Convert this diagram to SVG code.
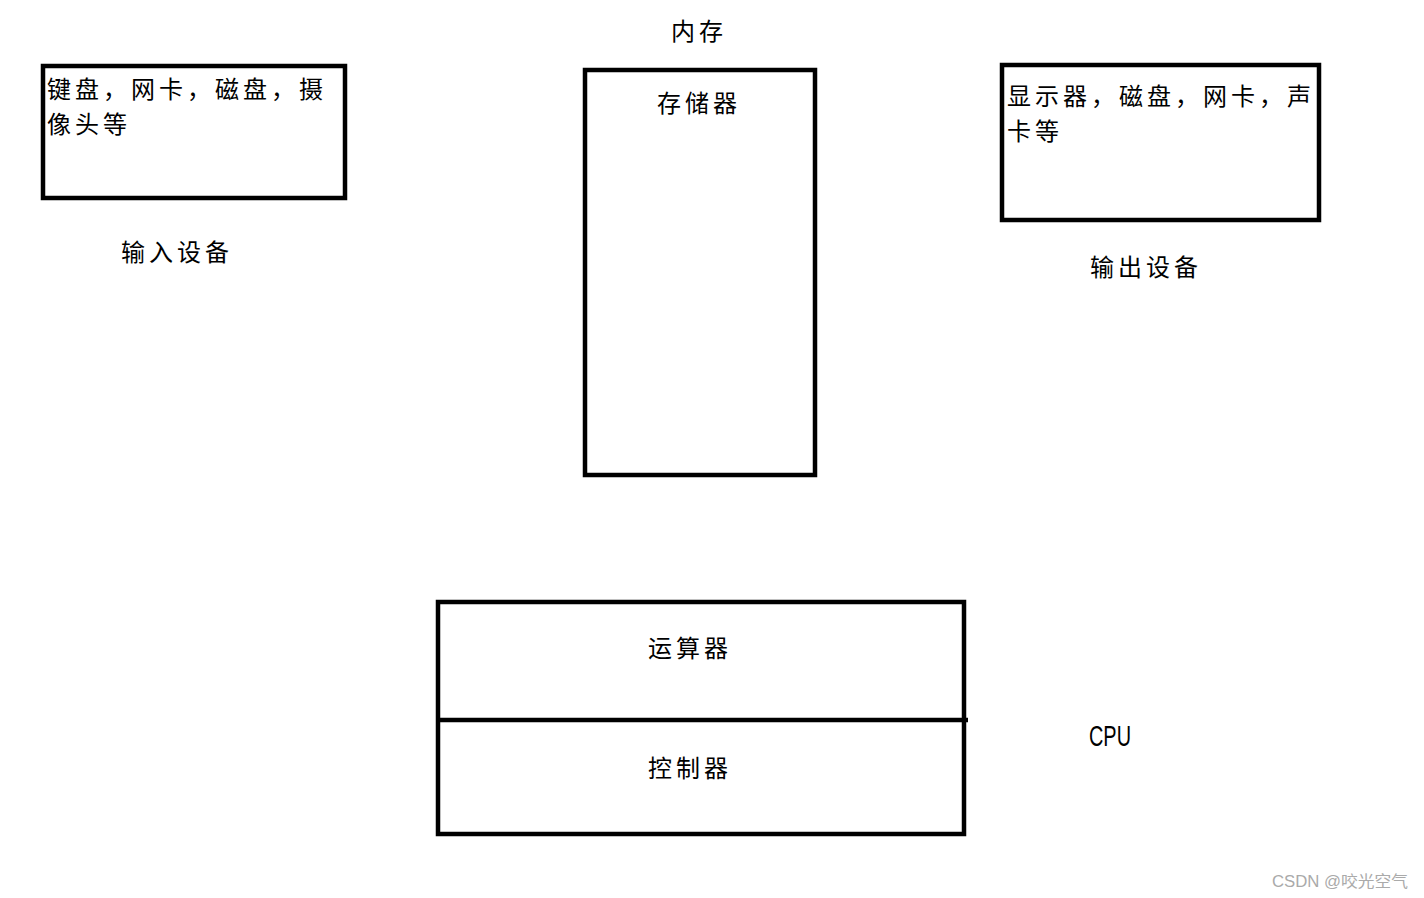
<svg xmlns="http://www.w3.org/2000/svg" width="1424" height="898" viewBox="0 0 1424 898">
<style>
.box{fill:none;stroke:#000;stroke-width:4.5}
.t{font-family:"Noto Sans CJK SC","Liberation Serif",serif;font-size:24px;letter-spacing:4px;fill:#000}
.cpu{font-family:"Liberation Sans",Arial,sans-serif;font-size:30px;fill:#000}
.wm{font-family:"Liberation Sans","Noto Sans CJK SC",sans-serif;font-size:16px;fill:#aaa}
</style>
<rect width="1424" height="898" fill="#fff"/>
<g id="input">
<rect class="box" x="43" y="66" width="302" height="132"/>
<text class="t" x="47" y="98">键盘，网卡，磁盘，摄</text>
<text class="t" x="47" y="133">像头等</text>
<text class="t" x="121" y="261">输入设备</text>
</g>
<g id="memory">
<text class="t" x="671" y="40">内存</text>
<rect class="box" x="585" y="70" width="230" height="405"/>
<text class="t" x="657" y="112">存储器</text>
</g>
<g id="output">
<rect class="box" x="1002" y="65" width="317" height="155"/>
<text class="t" x="1007" y="105">显示器，磁盘，网卡，声</text>
<text class="t" x="1007" y="140">卡等</text>
<text class="t" x="1090" y="276">输出设备</text>
</g>
<g id="cpu">
<rect class="box" x="438" y="602" width="526" height="232"/>
<line x1="438" y1="720" x2="968" y2="720" stroke="#000" stroke-width="4.5"/>
<text class="t" x="648" y="657">运算器</text>
<text class="t" x="648" y="777">控制器</text>
<text class="cpu" x="1089" y="746" textLength="42" lengthAdjust="spacingAndGlyphs">CPU</text>
</g>
<g id="connectors"></g>
<text class="wm" x="1272" y="887" textLength="136" lengthAdjust="spacingAndGlyphs">CSDN @咬光空气</text>
</svg>
